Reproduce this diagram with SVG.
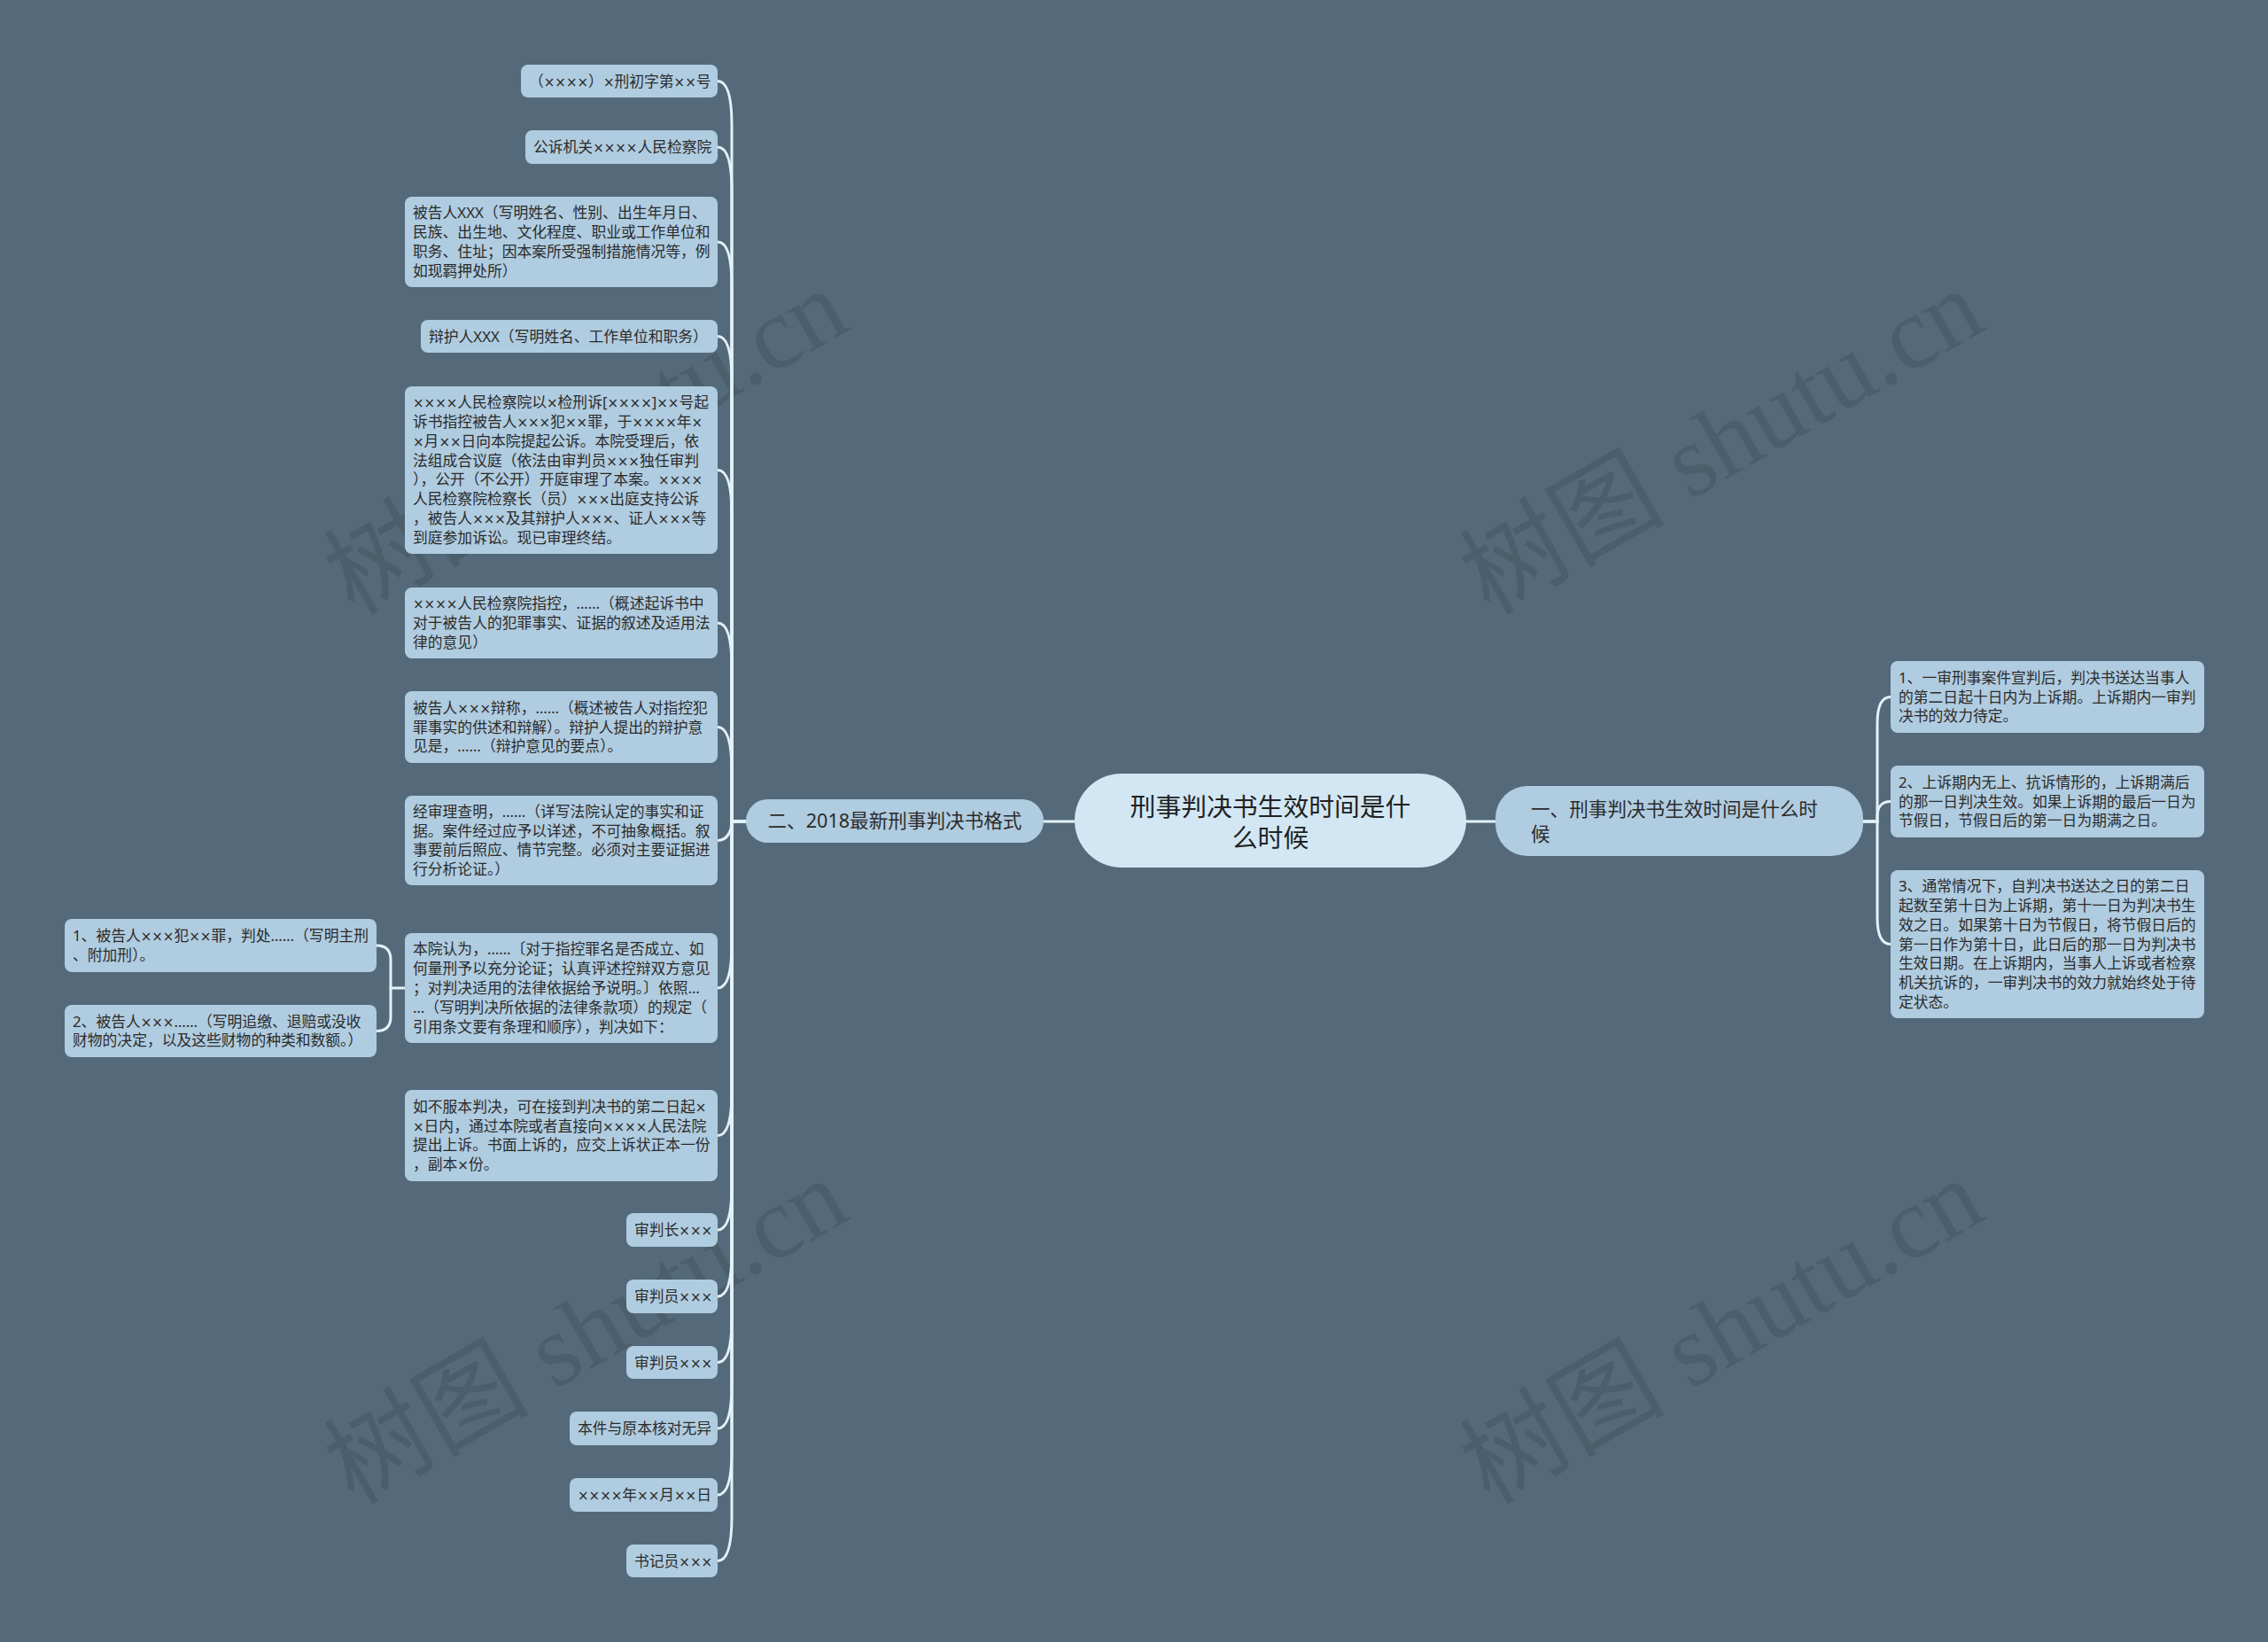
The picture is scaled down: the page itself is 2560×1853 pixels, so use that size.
<svg xmlns="http://www.w3.org/2000/svg" width="2560" height="1853" viewBox="0 0 2560 1853">
<style>
.bg{fill:#546a7a}
.wm{font-family:"Liberation Serif","Noto Sans CJK SC",serif;font-size:116px;fill:#000;fill-opacity:0.11}
.n rect{fill:#b0cce0}
.n text{font-family:"Noto Sans","Noto Sans CJK SC",sans-serif;font-size:16.8px;fill:#2b2b2b}
.n .x{font-family:"DejaVu Sans",sans-serif;font-size:15px}
.root rect{fill:#d2e7f3}
.root text{font-family:"Noto Sans","Noto Sans CJK SC",sans-serif;font-size:28.8px;fill:#222;text-anchor:middle}
.br rect{fill:#b0cce0}
.br text{font-family:"Noto Sans","Noto Sans CJK SC",sans-serif;font-size:21.6px;fill:#2b2b2b}
.c path{fill:none;stroke:#e3f1f8;stroke-width:3;stroke-linecap:round}
</style>
<rect class="bg" x="0" y="0" width="2560" height="1853"/>
<g id="watermarks">
<text class="wm" x="661" y="538" text-anchor="middle" transform="rotate(-30 661 498)">树图 shutu.cn</text>
<text class="wm" x="1943" y="538" text-anchor="middle" transform="rotate(-30 1943 498)">树图 shutu.cn</text>
<text class="wm" x="661" y="1542" text-anchor="middle" transform="rotate(-30 661 1502)">树图 shutu.cn</text>
<text class="wm" x="1943" y="1542" text-anchor="middle" transform="rotate(-30 1943 1502)">树图 shutu.cn</text>
</g>
<g id="connectors" class="c">
<path d="M1213 927 H1178"/>
<path d="M1655 927 H1688"/>
<path d="M843 927 H826 V141.5 C826 111.5 822 91.5 810 91.5"/>
<path d="M843 927 H826 V216 C826 186 822 166 810 166"/>
<path d="M843 927 H826 V323 C826 293 822 273 810 273"/>
<path d="M843 927 H826 V429.5 C826 399.5 822 379.5 810 379.5"/>
<path d="M843 927 H826 V580.5 C826 550.5 822 530.5 810 530.5"/>
<path d="M843 927 H826 V753 C826 723 822 703 810 703"/>
<path d="M843 927 H826 V870.5 C826 840.5 822 820.5 810 820.5"/>
<path d="M843 927 H826 C826 936 822 948.5 810 948.5"/>
<path d="M843 927 H826 V1065 C826 1095 822 1115 810 1115"/>
<path d="M843 927 H826 V1231.5 C826 1261.5 822 1281.5 810 1281.5"/>
<path d="M843 927 H826 V1338 C826 1368 822 1388 810 1388"/>
<path d="M843 927 H826 V1413 C826 1443 822 1463 810 1463"/>
<path d="M843 927 H826 V1487.5 C826 1517.5 822 1537.5 810 1537.5"/>
<path d="M843 927 H826 V1562 C826 1592 822 1612 810 1612"/>
<path d="M843 927 H826 V1637 C826 1667 822 1687 810 1687"/>
<path d="M843 927 H826 V1711.5 C826 1741.5 822 1761.5 810 1761.5"/>
<path d="M2103 927 H2119 V816.5 C2119 798.5 2123 786.5 2134 786.5"/>
<path d="M2103 927 H2119 V921 C2119 912 2123 904.5 2134 904.5"/>
<path d="M2103 927 H2119 V1035.5 C2119 1053.5 2123 1065.5 2134 1065.5"/>
<path d="M457 1115 H441 V1083 C441 1073 436 1067 425 1067"/>
<path d="M441 1115 V1147.5 C441 1157.5 436 1163.5 425 1163.5"/>
</g>
<g id="root" class="root">
<rect x="1213" y="873" width="442" height="106" rx="53"/>
<text x="1434" y="920.5"><tspan x="1434">刑事判决书生效时间是什</tspan><tspan x="1434" dy="35">么时候</tspan></text>
</g>
<g id="branch-left" class="br">
<rect x="842" y="902" width="336" height="49" rx="24.5"/>
<text x="1010" y="934" text-anchor="middle">二、2018最新刑事判决书格式</text>
</g>
<g id="branch-right" class="br">
<rect x="1688" y="887" width="415" height="79" rx="36"/>
<text x="1728" y="921"><tspan x="1728">一、刑事判决书生效时间是什么时</tspan><tspan x="1728" dy="28">候</tspan></text>
</g>
<g id="l1" class="n"><rect x="588" y="73" width="222" height="37" rx="8"/><text x="597" y="97.5">（<tspan class="x">××××</tspan>）<tspan class="x">×</tspan>刑初字第<tspan class="x">××</tspan>号</text></g>
<g id="l2" class="n"><rect x="593" y="147" width="217" height="38" rx="8"/><text x="602" y="172">公诉机关<tspan class="x">××××</tspan>人民检察院</text></g>
<g id="l3" class="n"><rect x="457" y="222" width="353" height="102" rx="8"/><text x="466" y="246.3"><tspan x="466">被告人XXX（写明姓名、性别、出生年月日、</tspan><tspan x="466" dy="21.8">民族、出生地、文化程度、职业或工作单位和</tspan><tspan x="466" dy="21.8">职务、住址；因本案所受强制措施情况等，例</tspan><tspan x="466" dy="21.8">如现羁押处所）</tspan></text></g>
<g id="l4" class="n"><rect x="475" y="361" width="335" height="37" rx="8"/><text x="484" y="385.5">辩护人XXX（写明姓名、工作单位和职务）</text></g>
<g id="l5" class="n"><rect x="457" y="436" width="353" height="189" rx="8"/><text x="466" y="460.2"><tspan x="466"><tspan class="x">××××</tspan>人民检察院以<tspan class="x">×</tspan>检刑诉[<tspan class="x">××××</tspan>]<tspan class="x">××</tspan>号起</tspan><tspan x="466" dy="21.8">诉书指控被告人<tspan class="x">×××</tspan>犯<tspan class="x">××</tspan>罪，于<tspan class="x">××××</tspan>年<tspan class="x">×</tspan></tspan><tspan x="466" dy="21.8"><tspan class="x">×</tspan>月<tspan class="x">××</tspan>日向本院提起公诉。本院受理后，依</tspan><tspan x="466" dy="21.8">法组成合议庭（依法由审判员<tspan class="x">×××</tspan>独任审判</tspan><tspan x="466" dy="21.8">），公开（不公开）开庭审理了本案。<tspan class="x">××××</tspan></tspan><tspan x="466" dy="21.8">人民检察院检察长（员）<tspan class="x">×××</tspan>出庭支持公诉</tspan><tspan x="466" dy="21.8">，被告人<tspan class="x">×××</tspan>及其辩护人<tspan class="x">×××</tspan>、证人<tspan class="x">×××</tspan>等</tspan><tspan x="466" dy="21.8">到庭参加诉讼。现已审理终结。</tspan></text></g>
<g id="l6" class="n"><rect x="457" y="663" width="353" height="80" rx="8"/><text x="466" y="687.2"><tspan x="466"><tspan class="x">××××</tspan>人民检察院指控，……（概述起诉书中</tspan><tspan x="466" dy="21.8">对于被告人的犯罪事实、证据的叙述及适用法</tspan><tspan x="466" dy="21.8">律的意见）</tspan></text></g>
<g id="l7" class="n"><rect x="457" y="780" width="353" height="81" rx="8"/><text x="466" y="804.7"><tspan x="466">被告人<tspan class="x">×××</tspan>辩称，……（概述被告人对指控犯</tspan><tspan x="466" dy="21.8">罪事实的供述和辩解）。辩护人提出的辩护意</tspan><tspan x="466" dy="21.8">见是，……（辩护意见的要点）。</tspan></text></g>
<g id="l8" class="n"><rect x="457" y="898" width="353" height="101" rx="8"/><text x="466" y="921.8"><tspan x="466">经审理查明，……（详写法院认定的事实和证</tspan><tspan x="466" dy="21.8">据。案件经过应予以详述，不可抽象概括。叙</tspan><tspan x="466" dy="21.8">事要前后照应、情节完整。必须对主要证据进</tspan><tspan x="466" dy="21.8">行分析论证。）</tspan></text></g>
<g id="l9" class="n"><rect x="457" y="1053" width="353" height="124" rx="8"/><text x="466" y="1077.4"><tspan x="466">本院认为，……〔对于指控罪名是否成立、如</tspan><tspan x="466" dy="21.8">何量刑予以充分论证；认真评述控辩双方意见</tspan><tspan x="466" dy="21.8">；对判决适用的法律依据给予说明。〕依照…</tspan><tspan x="466" dy="21.8">…（写明判决所依据的法律条款项）的规定（</tspan><tspan x="466" dy="21.8">引用条文要有条理和顺序），判决如下：</tspan></text></g>
<g id="l9a" class="n"><rect x="73" y="1037" width="352" height="60" rx="8"/><text x="82" y="1062.1"><tspan x="82">1、被告人<tspan class="x">×××</tspan>犯<tspan class="x">××</tspan>罪，判处……（写明主刑</tspan><tspan x="82" dy="21.8">、附加刑）。</tspan></text></g>
<g id="l9b" class="n"><rect x="73" y="1134" width="352" height="59" rx="8"/><text x="82" y="1158.6"><tspan x="82">2、被告人<tspan class="x">×××</tspan>……（写明追缴、退赔或没收</tspan><tspan x="82" dy="21.8">财物的决定，以及这些财物的种类和数额。）</tspan></text></g>
<g id="l10" class="n"><rect x="457" y="1230" width="353" height="103" rx="8"/><text x="466" y="1254.8"><tspan x="466">如不服本判决，可在接到判决书的第二日起<tspan class="x">×</tspan></tspan><tspan x="466" dy="21.8"><tspan class="x">×</tspan>日内，通过本院或者直接向<tspan class="x">××××</tspan>人民法院</tspan><tspan x="466" dy="21.8">提出上诉。书面上诉的，应交上诉状正本一份</tspan><tspan x="466" dy="21.8">，副本<tspan class="x">×</tspan>份。</tspan></text></g>
<g id="l11" class="n"><rect x="707" y="1369" width="103" height="38" rx="8"/><text x="716" y="1394">审判长<tspan class="x">×××</tspan></text></g>
<g id="l12" class="n"><rect x="707" y="1444" width="103" height="38" rx="8"/><text x="716" y="1469">审判员<tspan class="x">×××</tspan></text></g>
<g id="l13" class="n"><rect x="707" y="1519" width="103" height="37" rx="8"/><text x="716" y="1543.5">审判员<tspan class="x">×××</tspan></text></g>
<g id="l14" class="n"><rect x="643" y="1593" width="167" height="38" rx="8"/><text x="652" y="1618">本件与原本核对无异</text></g>
<g id="l15" class="n"><rect x="643" y="1668" width="167" height="38" rx="8"/><text x="652" y="1693"><tspan class="x">××××</tspan>年<tspan class="x">××</tspan>月<tspan class="x">××</tspan>日</text></g>
<g id="l16" class="n"><rect x="707" y="1743" width="103" height="37" rx="8"/><text x="716" y="1767.5">书记员<tspan class="x">×××</tspan></text></g>
<g id="r1" class="n"><rect x="2134" y="746" width="354" height="81" rx="8"/><text x="2143" y="770.7"><tspan x="2143">1、一审刑事案件宣判后，判决书送达当事人</tspan><tspan x="2143" dy="21.8">的第二日起十日内为上诉期。上诉期内一审判</tspan><tspan x="2143" dy="21.8">决书的效力待定。</tspan></text></g>
<g id="r2" class="n"><rect x="2134" y="864" width="354" height="81" rx="8"/><text x="2143" y="888.7"><tspan x="2143">2、上诉期内无上、抗诉情形的，上诉期满后</tspan><tspan x="2143" dy="21.8">的那一日判决生效。如果上诉期的最后一日为</tspan><tspan x="2143" dy="21.8">节假日，节假日后的第一日为期满之日。</tspan></text></g>
<g id="r3" class="n"><rect x="2134" y="982" width="354" height="167" rx="8"/><text x="2143" y="1006.1"><tspan x="2143">3、通常情况下，自判决书送达之日的第二日</tspan><tspan x="2143" dy="21.8">起数至第十日为上诉期，第十一日为判决书生</tspan><tspan x="2143" dy="21.8">效之日。如果第十日为节假日，将节假日后的</tspan><tspan x="2143" dy="21.8">第一日作为第十日，此日后的那一日为判决书</tspan><tspan x="2143" dy="21.8">生效日期。在上诉期内，当事人上诉或者检察</tspan><tspan x="2143" dy="21.8">机关抗诉的，一审判决书的效力就始终处于待</tspan><tspan x="2143" dy="21.8">定状态。</tspan></text></g>
</svg>
